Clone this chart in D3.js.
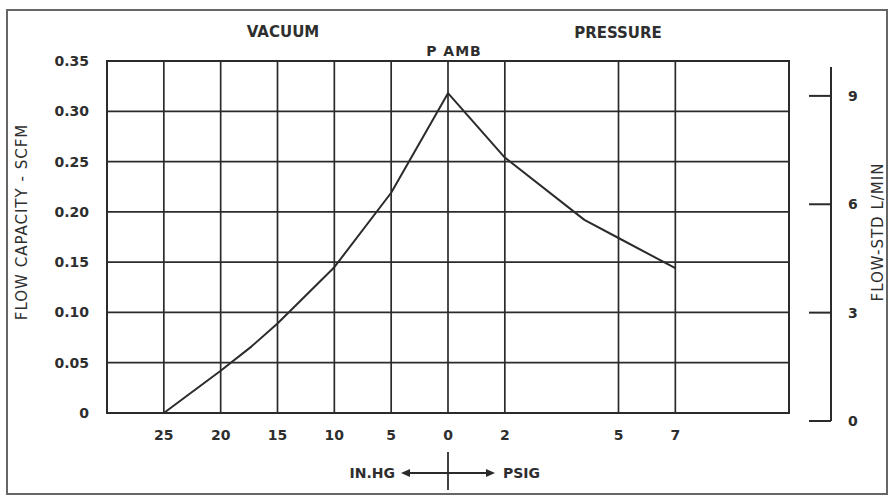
<!DOCTYPE html>
<html>
<head>
<meta charset="utf-8">
<script src="https://cdn.jsdelivr.net/npm/d3@7"></script>
<style>
  body { margin: 0; background: #fff; }
  svg text { font-family: "DejaVu Sans", sans-serif; fill: #2e2e2e; }
</style>
</head>
<body>
<svg id="chart" width="888" height="497"></svg>
<script>
// Data
// x: vacuum in in.Hg (negative) and pressure in psig (positive)
const pressure = [-25, -20, -17.3, -15, -10, -5, 0, 2, 4.1, 5, 7];
const flowScfm = [0, 0.042, 0.066, 0.089, 0.145, 0.219, 0.318, 0.254, 0.192, 0.174, 0.144];

const xGrid = [-25, -20, -15, -10, -5, 0, 2, 5, 7];
const xTickLabels = ["25", "20", "15", "10", "5", "0", "2", "5", "7"];
const yTicks = [0, 0.05, 0.10, 0.15, 0.20, 0.25, 0.30, 0.35];
const rightTicks = [0, 3, 6, 9];

const svg = d3.select("#chart");
const ink = "#2b2b2b";

// outer frame
svg.append("rect")
    .attr("x", 7).attr("y", 10)
    .attr("width", 880).attr("height", 484)
    .attr("fill", "none")
    .attr("stroke", "#666")
    .attr("stroke-width", 2);

// scales: the drawn pressure axis is not uniform, so use a polylinear scale
const unit = (448 - 107) / 6;
const x = d3.scaleLinear()
    .domain([-30, 0, 2, 5, 7, 11])
    .range([107, 107 + 6 * unit, 107 + 7 * unit, 107 + 9 * unit, 107 + 10 * unit, 107 + 12 * unit]);
const y = d3.scaleLinear().domain([0, 0.35]).range([413, 61]);
const yR = d3.scaleLinear().domain([0, 9.8]).range([421, 67]);

// grid
const grid = svg.append("g").attr("stroke", ink).attr("stroke-width", 1.7);
grid.selectAll(".v")
    .data(xGrid)
    .enter()
    .append("line")
    .attr("x1", (d) => x(d)).attr("x2", (d) => x(d))
    .attr("y1", y(0)).attr("y2", y(0.35));
grid.selectAll(".h")
    .data(yTicks.slice(1, -1))
    .enter()
    .append("line")
    .attr("x1", x(-30)).attr("x2", x(11))
    .attr("y1", (d) => y(d)).attr("y2", (d) => y(d));
svg.append("rect")
    .attr("x", x(-30)).attr("y", y(0.35))
    .attr("width", x(11) - x(-30)).attr("height", y(0) - y(0.35))
    .attr("fill", "none").attr("stroke", ink).attr("stroke-width", 2);

// left axis labels
const yAxis = svg.append("g")
    .attr("transform", `translate(${x(-30)},0)`)
    .call(d3.axisLeft(y).tickValues(yTicks).tickSize(0).tickPadding(18)
        .tickFormat((d) => (d === 0 ? "0" : d3.format(".2f")(d))));
yAxis.select(".domain").remove();
yAxis.selectAll("text")
    .style("font-size", "14px").style("font-weight", "bold")
    .attr("fill", "#2e2e2e")
    .attr("font-family", "DejaVu Sans");

// bottom tick labels
svg.append("g")
    .selectAll("text")
    .data(xGrid)
    .enter()
    .append("text")
    .attr("x", (d) => x(d))
    .attr("y", 440)
    .attr("text-anchor", "middle")
    .style("font-size", "14px").style("font-weight", "bold")
    .text((d, i) => xTickLabels[i]);

// the curve
svg.append("path")
    .datum(pressure.map((p, i) => [p, flowScfm[i]]))
    .attr("fill", "none")
    .attr("stroke", ink)
    .attr("stroke-width", 2)
    .attr("stroke-linejoin", "round")
    .attr("d", d3.line().x((d) => x(d[0])).y((d) => y(d[1])));

// right axis (L/min)
const rx = 831;
svg.append("line")
    .attr("x1", rx).attr("x2", rx)
    .attr("y1", yR(9.8)).attr("y2", yR(0))
    .attr("stroke", ink).attr("stroke-width", 2);
const rt = svg.append("g").selectAll("g").data(rightTicks).enter().append("g");
rt.append("line")
    .attr("x1", rx - 22).attr("x2", rx)
    .attr("y1", (d) => yR(d)).attr("y2", (d) => yR(d))
    .attr("stroke", ink).attr("stroke-width", 2);
rt.append("text")
    .attr("x", rx + 17).attr("y", (d) => yR(d) + 5)
    .style("font-size", "14px").style("font-weight", "bold")
    .text((d) => d);

// titles
svg.append("text").attr("x", 283).attr("y", 37).attr("text-anchor", "middle")
    .style("font-size", "15px").style("font-weight", "bold").text("VACUUM");
svg.append("text").attr("x", 618).attr("y", 38).attr("text-anchor", "middle")
    .style("font-size", "15px").style("font-weight", "bold").text("PRESSURE");
svg.append("text").attr("x", x(0) + 6).attr("y", 56).attr("text-anchor", "middle")
    .style("font-size", "14px").style("font-weight", "bold").style("letter-spacing", "1px")
    .text("P AMB");

svg.append("text")
    .attr("transform", "translate(27,222) rotate(-90)")
    .attr("text-anchor", "middle")
    .style("font-size", "15px").style("letter-spacing", "1px")
    .text("FLOW CAPACITY - SCFM");
svg.append("text")
    .attr("transform", "translate(883,232) rotate(-90)")
    .attr("text-anchor", "middle")
    .style("font-size", "15px").style("letter-spacing", "1px")
    .text("FLOW-STD L/MIN");

// units legend under the axis
const ay = 473, x0 = x(0);
svg.append("line").attr("x1", x0).attr("x2", x0).attr("y1", 452).attr("y2", 490)
    .attr("stroke", ink).attr("stroke-width", 1.8);
svg.append("line").attr("x1", x0 - 40).attr("x2", x0 + 40).attr("y1", ay).attr("y2", ay)
    .attr("stroke", ink).attr("stroke-width", 1.8);
svg.append("path")
    .attr("d", `M${x0 - 47},${ay} L${x0 - 38},${ay - 4} L${x0 - 38},${ay + 4} Z`)
    .attr("fill", ink);
svg.append("path")
    .attr("d", `M${x0 + 47},${ay} L${x0 + 38},${ay - 4} L${x0 + 38},${ay + 4} Z`)
    .attr("fill", ink);
svg.append("text").attr("x", x0 - 53).attr("y", ay + 5).attr("text-anchor", "end")
    .style("font-size", "14px").style("font-weight", "bold").text("IN.HG");
svg.append("text").attr("x", x0 + 55).attr("y", ay + 5)
    .style("font-size", "14px").style("font-weight", "bold").text("PSIG");
</script>
</body>
</html>
